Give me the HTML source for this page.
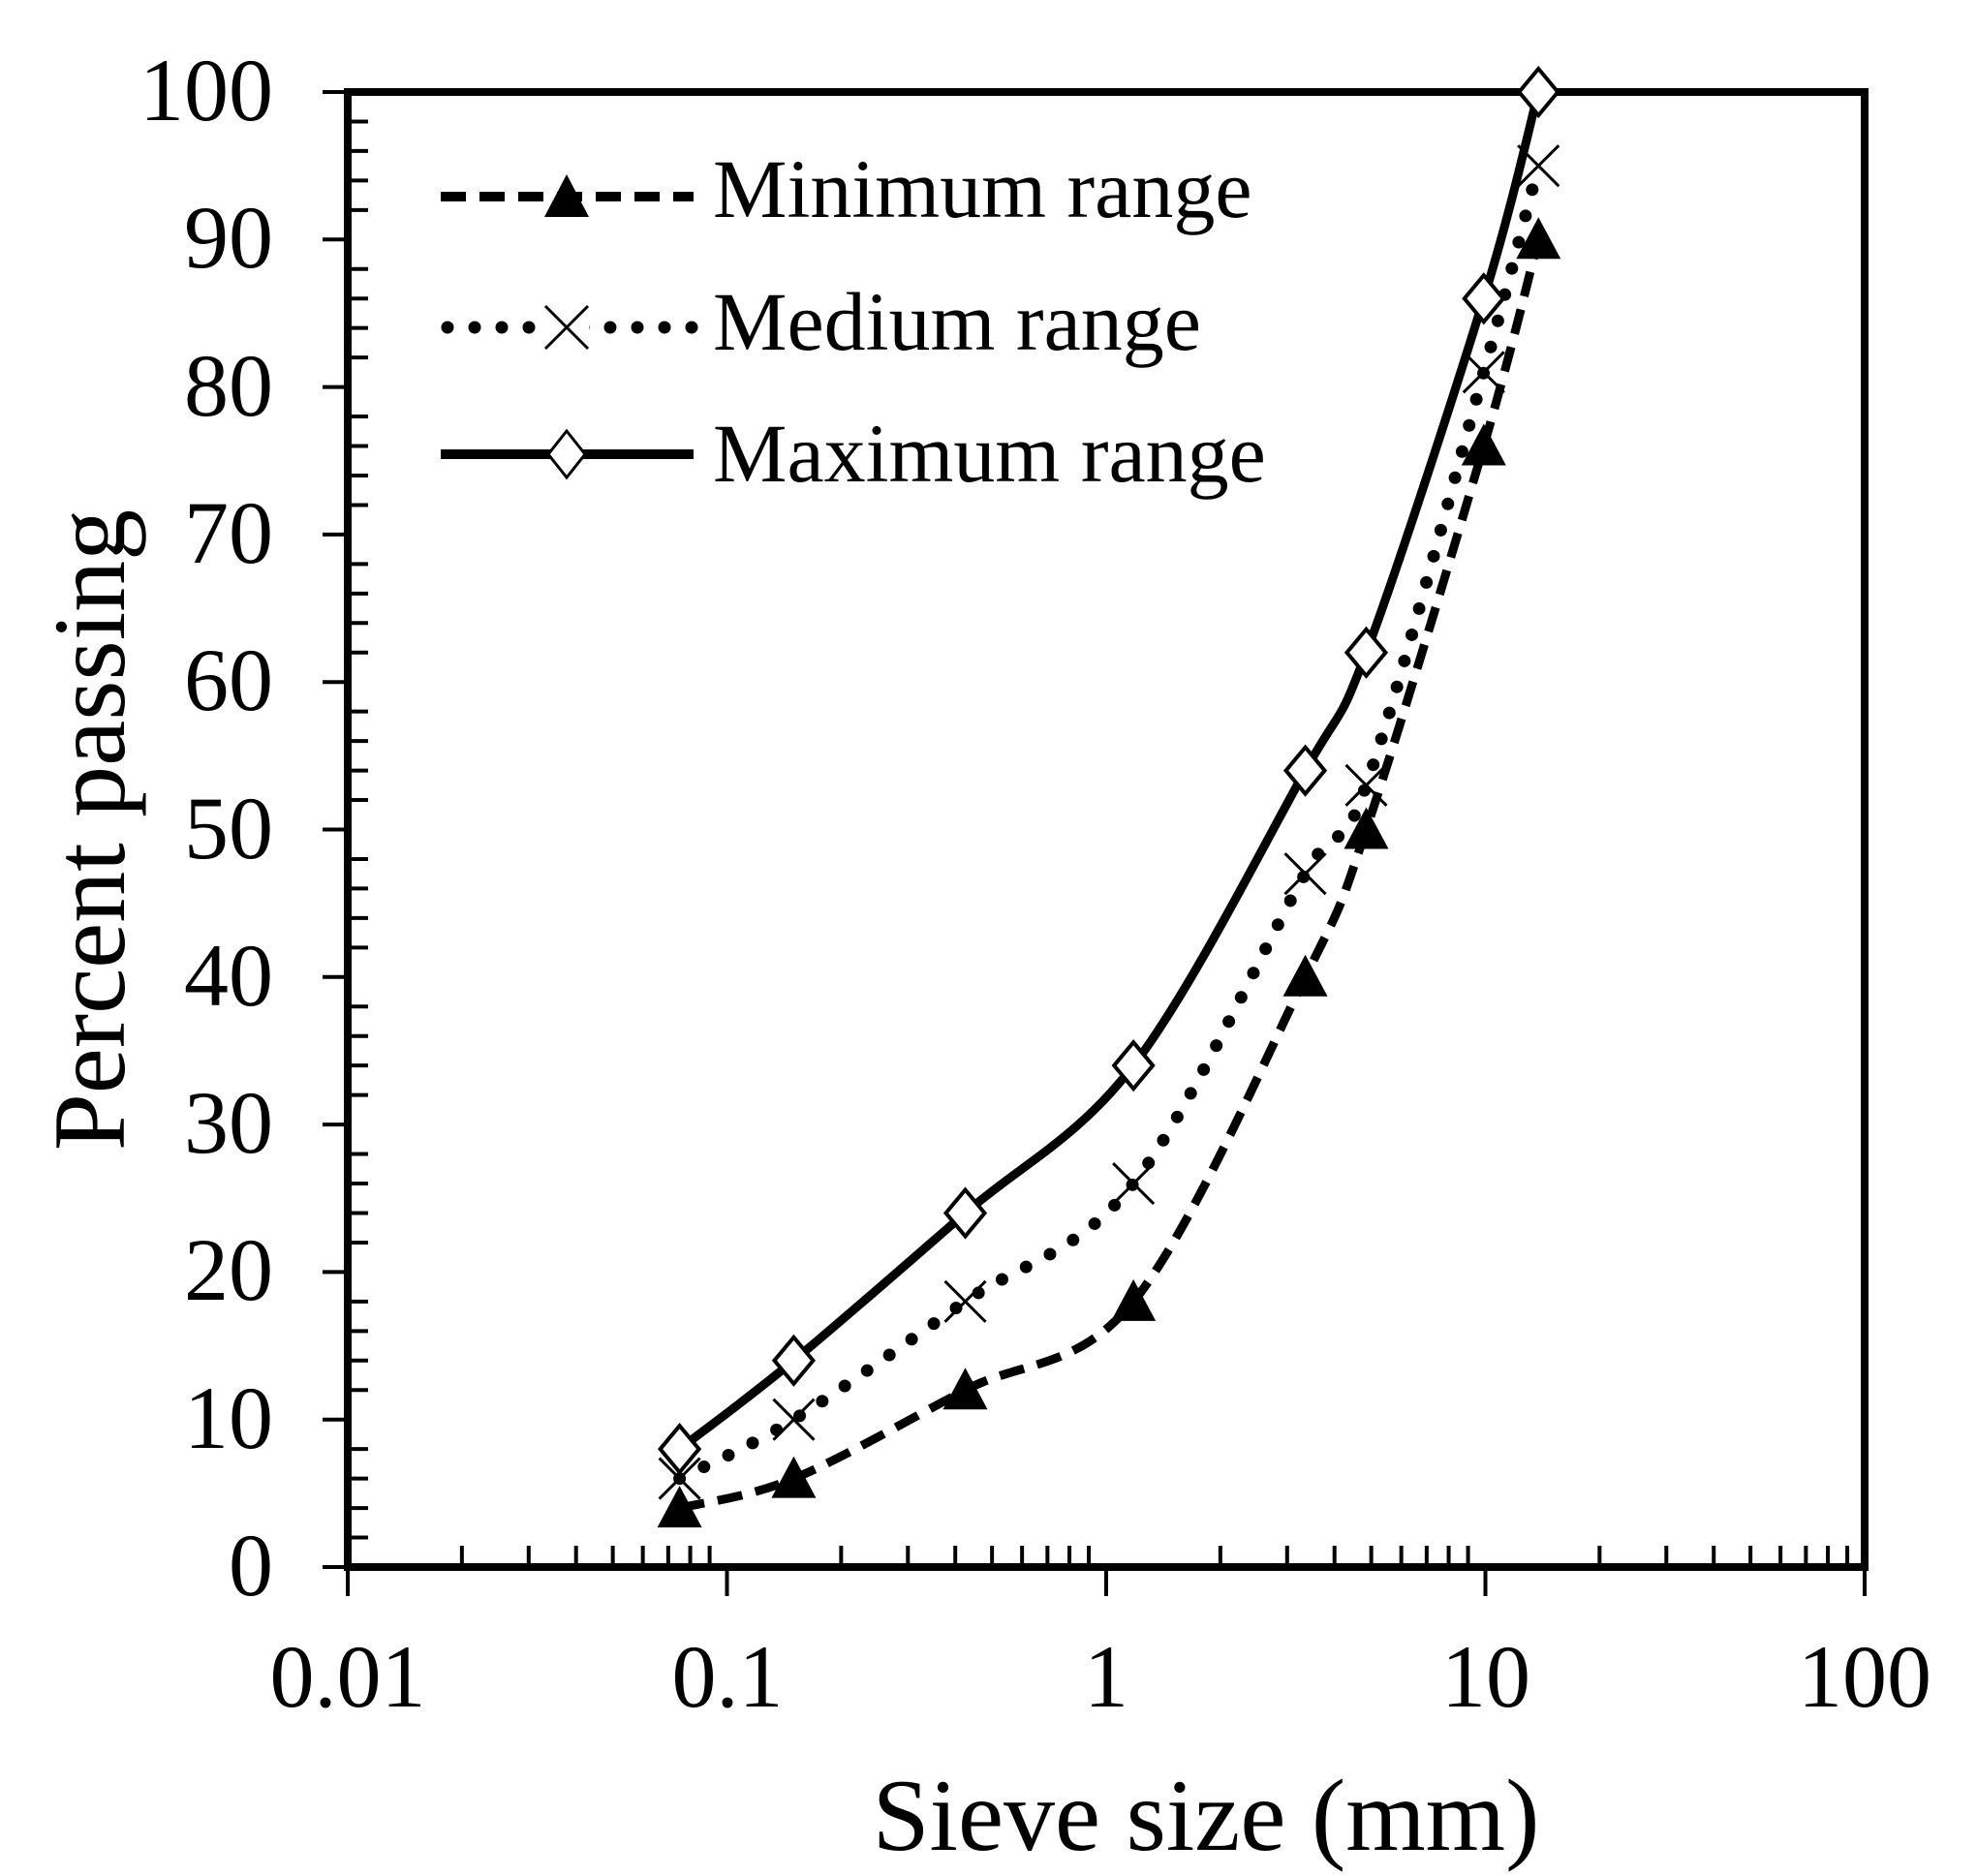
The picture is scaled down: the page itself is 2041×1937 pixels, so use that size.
<!DOCTYPE html>
<html><head><meta charset="utf-8">
<style>
html,body{margin:0;padding:0;background:#fff;}
svg{display:block;}
text{font-family:"Liberation Serif","DejaVu Serif",serif;fill:#000;}
</style></head>
<body>
<svg id="s" width="2041" height="1937" viewBox="0 0 2041 1937" xmlns="http://www.w3.org/2000/svg">
<rect width="2041" height="1937" fill="#fff"/>
<g id="ticks" stroke="#000" stroke-width="4"></g>
<rect x="359" y="95" width="1566" height="1523" fill="none" stroke="#000" stroke-width="8"/>
<g font-size="92" text-anchor="end">
<text x="282" y="124">100</text>
<text x="282" y="276">90</text>
<text x="282" y="429">80</text>
<text x="282" y="581">70</text>
<text x="282" y="733">60</text>
<text x="282" y="886">50</text>
<text x="282" y="1038">40</text>
<text x="282" y="1190">30</text>
<text x="282" y="1342">20</text>
<text x="282" y="1495">10</text>
<text x="282" y="1647">0</text>
</g>
<g font-size="92" text-anchor="middle">
<text x="359" y="1762">0.01</text>
<text x="751" y="1762">0.1</text>
<text x="1142" y="1762">1</text>
<text x="1534" y="1762">10</text>
<text x="1925" y="1762">100</text>
</g>
<text x="1245" y="1910" font-size="106" text-anchor="middle">Sieve size (mm)</text>
<text x="0" y="0" font-size="106" text-anchor="middle" transform="translate(128,857) rotate(-90)">Percent passing</text>
<g id="series"></g>
<g>
<line x1="455" y1="203" x2="716" y2="203" stroke="#000" stroke-width="10" stroke-dasharray="26,14"/>
<polygon points="585,180 608,224 562,224" fill="#000"/>
<text x="736" y="224" font-size="86">Minimum range</text>
<line x1="462" y1="338" x2="716" y2="338" stroke="#000" stroke-width="13" stroke-linecap="round" stroke-dasharray="0,28"/>
<rect x="562" y="316" width="46" height="44" fill="#fff"/>
<path d="M563,316 L607,360 M607,316 L563,360" stroke="#000" stroke-width="3"/>
<text x="736" y="361" font-size="86">Medium range</text>
<line x1="455" y1="469" x2="716" y2="469" stroke="#000" stroke-width="10"/>
<polygon points="585,445 604,469 585,493 566,469" fill="#fff" stroke="#000" stroke-width="3"/>
<text x="736" y="497" font-size="86">Maximum range</text>
</g>
</svg>
<script>
(function(){
var NS="http://www.w3.org/2000/svg";
function X(v){return 359+391.5*(Math.log10(v)+2);}
function Y(p){return 1618-15.23*p;}
var tk=document.getElementById('ticks'),d="";
for(var e=-2;e<2;e++){for(var m=2;m<=9;m++){var x=X(m*Math.pow(10,e));d+="M"+x+",1618 L"+x+",1596 ";}}
for(var e2=-2;e2<=2;e2++){var x2=X(Math.pow(10,e2));d+="M"+x2+",1618 L"+x2+",1648 ";}
for(var p=0;p<=100;p+=2){var y=Y(p);if(p%10==0){d+="M333,"+y+" L359,"+y+" ";}else{d+="M359,"+y+" L380,"+y+" ";}}
var pth=document.createElementNS(NS,'path');pth.setAttribute('d',d);tk.appendChild(pth);
var xs=[0.075,0.15,0.425,1.18,3.35,4.85,9.9,13.8];
var S=[
 {v:[4,6,12,18,40,50,76,90],dash:"26,14",cap:"butt",mk:"tri"},
 {v:[6,10,18,26,47,53,81,95],dash:"0,28",cap:"round",mk:"x"},
 {v:[8,14,24,34,54,62,86,100],dash:"",cap:"butt",mk:"dia"}];
var g=document.getElementById('series');
function spline(pts){
 var s="M"+pts[0][0]+","+pts[0][1];
 for(var i=0;i<pts.length-1;i++){
  var p0=pts[i-1]||pts[i],p1=pts[i],p2=pts[i+1],p3=pts[i+2]||p2,t=1/6;
  var c1=[p1[0]+(p2[0]-p0[0])*t,p1[1]+(p2[1]-p0[1])*t];
  var c2=[p2[0]-(p3[0]-p1[0])*t,p2[1]-(p3[1]-p1[1])*t];
  s+=" C"+c1[0]+","+c1[1]+" "+c2[0]+","+c2[1]+" "+p2[0]+","+p2[1];
 }return s;}
S.forEach(function(s){
 var pts=xs.map(function(x,i){return [X(x),Y(s.v[i])];});
 var p=document.createElementNS(NS,'path');
 p.setAttribute('d',spline(pts));p.setAttribute('fill','none');p.setAttribute('stroke','#000');
 p.setAttribute('stroke-width',s.mk=="x"?13:9);p.setAttribute('stroke-linecap',s.cap);
 if(s.dash)p.setAttribute('stroke-dasharray',s.dash);
 g.appendChild(p);
 pts.forEach(function(q){
  var m;
  if(s.mk=="tri"){m=document.createElementNS(NS,'polygon');
   m.setAttribute('points',q[0]+","+(q[1]-23)+" "+(q[0]+23)+","+(q[1]+20)+" "+(q[0]-23)+","+(q[1]+20));m.setAttribute('fill','#000');}
  else if(s.mk=="x"){m=document.createElementNS(NS,'path');
   m.setAttribute('d',"M"+(q[0]-21)+","+(q[1]-21)+" L"+(q[0]+21)+","+(q[1]+21)+" M"+(q[0]+21)+","+(q[1]-21)+" L"+(q[0]-21)+","+(q[1]+21));
   m.setAttribute('stroke','#000');m.setAttribute('stroke-width','3');}
  else {m=document.createElementNS(NS,'polygon');
   m.setAttribute('points',q[0]+","+(q[1]-24)+" "+(q[0]+20)+","+q[1]+" "+q[0]+","+(q[1]+24)+" "+(q[0]-20)+","+q[1]);
   m.setAttribute('fill','#fff');m.setAttribute('stroke','#000');m.setAttribute('stroke-width','4');}
  g.appendChild(m);
 });
});
})();
</script>
</body></html>
